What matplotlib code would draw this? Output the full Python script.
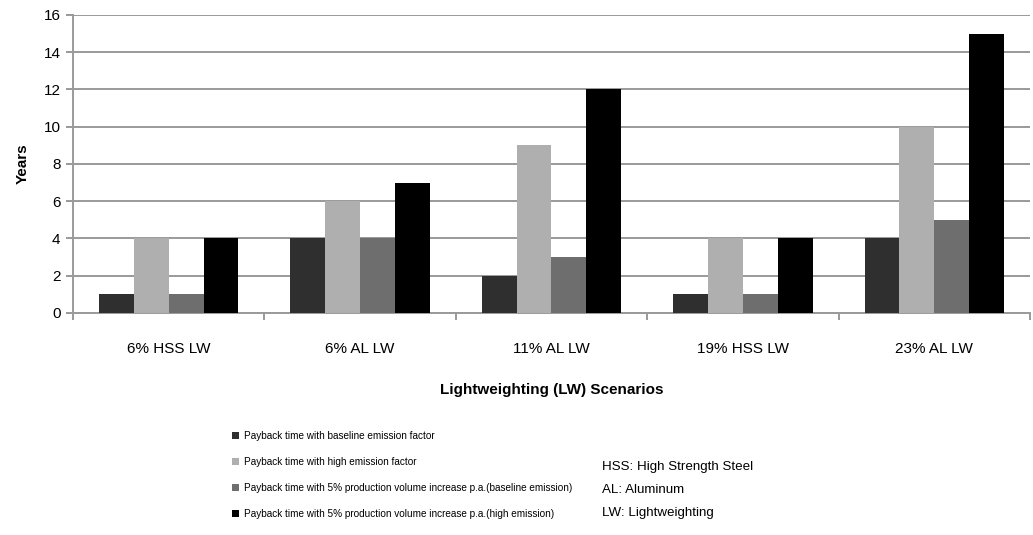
import matplotlib.pyplot as plt
from matplotlib.patches import Patch
import numpy as np

plt.rcParams['font.family'] = ['Liberation Sans', 'DejaVu Sans']

# Payback time (years) per lightweighting scenario
scenarios = ['6% HSS LW', '6% AL LW', '11% AL LW', '19% HSS LW', '23% AL LW']
baseline = [1, 4, 2, 1, 4]
high = [4, 6, 9, 4, 10]
volume_baseline = [1, 4, 3, 1, 5]
volume_high = [4, 7, 12, 4, 15]

series = [baseline, high, volume_baseline, volume_high]
labels = ['Payback time with baseline emission factor',
          'Payback time with high emission factor',
          'Payback time with 5% production volume increase p.a.(baseline emission)',
          'Payback time with 5% production volume increase p.a.(high emission)']
colors = ['#2f2f2f', '#afafaf', '#6e6e6e', '#000000']

fig = plt.figure(figsize=(10.33, 5.35), dpi=100)
ax = fig.add_axes([0.0707, 0.415, 0.9263, 0.557])

x = np.arange(len(scenarios))
w = 0.182
for i, (vals, c) in enumerate(zip(series, colors)):
    ax.bar(x + (i - 1.5) * w, vals, width=w, color=c, zorder=3)

ax.set_xlim(-0.5, len(scenarios) - 0.5)
ax.set_ylim(0, 16)
ax.set_yticks(range(0, 17, 2))
ax.yaxis.grid(True, color='#9a9a9a', linewidth=1.4, zorder=0)
ax.set_axisbelow(True)

# category separators as ticks below the axis
ax.set_xticks(np.arange(-0.5, len(scenarios), 1.0))
ax.set_xticklabels([])
ax.set_xticks(x, minor=True)
ax.set_xticklabels(scenarios, minor=True, fontsize=11)
ax.tick_params(axis='x', which='minor', length=0, pad=21)
ax.tick_params(axis='x', which='major', length=5, color='#9a9a9a', width=1.4)
ax.tick_params(axis='y', length=5, color='#9a9a9a', width=1.4, labelsize=11, pad=4)

for s in ['top', 'right']:
    ax.spines[s].set_visible(False)
ax.spines['left'].set_color('#9a9a9a')
ax.spines['left'].set_linewidth(1.4)
ax.spines['bottom'].set_color('#9a9a9a')
ax.spines['bottom'].set_linewidth(1.4)

ax.set_ylabel('Years', fontsize=11, fontweight='bold', labelpad=10)
ax.set_xlabel('Lightweighting (LW) Scenarios', fontsize=11, fontweight='bold', labelpad=19)

handles = [Patch(facecolor=c, label=l) for c, l in zip(colors, labels)]
fig.legend(handles=handles, loc='upper left', bbox_to_anchor=(0.225, 0.194),
           frameon=False, fontsize=7.2, handlelength=0.7, handleheight=0.7,
           handletextpad=0.45, labelspacing=1.6, borderaxespad=0, borderpad=0)

fig.text(0.583, 0.084, 'HSS: High Strength Steel\nAL: Aluminum\nLW: Lightweighting',
         fontsize=9.6, va='center', ha='left', linespacing=2.2)

fig.savefig('out.png', dpi=100)
